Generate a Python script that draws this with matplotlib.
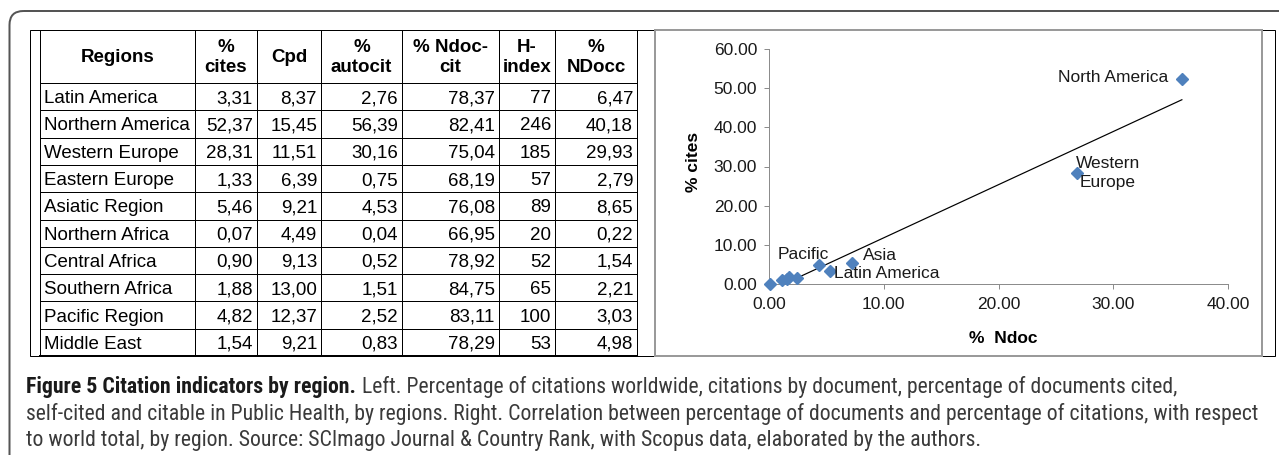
import matplotlib
matplotlib.use("Agg")
import matplotlib.pyplot as plt
from matplotlib import font_manager
from matplotlib.patches import Rectangle, FancyBboxPatch
import numpy as np

# ---- data -------------------------------------------------------------
regions = ["Latin America", "Northern America", "Western Europe", "Eastern Europe",
           "Asiatic Region", "Northern Africa", "Central Africa", "Southern Africa",
           "Pacific Region", "Middle East"]
pct_cites = [3.31, 52.37, 28.31, 1.33, 5.46, 0.07, 0.90, 1.88, 4.82, 1.54]
cpd = [8.37, 15.45, 11.51, 6.39, 9.21, 4.49, 9.13, 13.00, 12.37, 9.21]
pct_autocit = [2.76, 56.39, 30.16, 0.75, 4.53, 0.04, 0.52, 1.51, 2.52, 0.83]
pct_ndoc_cit = [78.37, 82.41, 75.04, 68.19, 76.08, 66.95, 78.92, 84.75, 83.11, 78.29]
h_index = [77, 246, 185, 57, 89, 20, 52, 65, 100, 53]
pct_ndocc = [6.47, 40.18, 29.93, 2.79, 8.65, 0.22, 1.54, 2.21, 3.03, 4.98]
headers = ["Regions", "%\ncites", "Cpd", "%\nautocit", "% Ndoc-\ncit", "H-\nindex", "%\nNDocc"]

# scatter: % Ndoc, % cites from the table
pct_ndoc = [5.32, 35.98, 26.83, 1.60, 7.26, 0.09, 1.16, 1.77, 4.36, 2.41]
point_names = ["Latin America", "North America", "Western\nEurope", "", "Asia",
               "", "", "", "Pacific", ""]
x_ticks = [0, 10, 20, 30, 40]
y_ticks = [0, 10, 20, 30, 40, 50, 60]

caption_bold = "Figure 5 Citation indicators by region."
caption_lines = [
    "Left. Percentage of citations worldwide, citations by document, percentage of documents cited,",
    "self-cited and citable in Public Health, by regions. Right. Correlation between percentage of documents and percentage of citations, with respect",
    "to world total, by region. Source: SCImago Journal & Country Rank, with Scopus data, elaborated by the authors.",
]

# ---- layout (pixels) --------------------------------------------------
W, H = 1279, 455
PT = 0.72  # points per pixel at dpi 100
col_edges = [39.5, 195, 257, 321, 402, 499, 555, 637]
table_top = 30
header_h = 53
row_h = 27.3

installed = {f.name for f in font_manager.fontManager.ttflist}
def pick(names):
    for n in names:
        if n in installed:
            return n
    return "DejaVu Sans"

table_font = pick(["Liberation Sans", "Arial", "DejaVu Sans"])
cap_font = pick(["Liberation Sans Narrow", "Roboto Condensed", "Open Sans Condensed",
                 "Roboto", "Open Sans"])

fig = plt.figure(figsize=(W / 100, H / 100), dpi=100)
fig.patch.set_facecolor("white")

bg = fig.add_axes([0, 0, 1, 1])
bg.set_xlim(0, W)
bg.set_ylim(H, 0)
bg.axis("off")

# outer rounded box and frames
bg.add_patch(FancyBboxPatch((9.5, 11), 1400, 600, boxstyle="round,pad=0,rounding_size=14",
                            fill=False, edgecolor="#555555", lw=2 * PT))
table_bottom = table_top + header_h + row_h * len(regions)
bg.add_patch(Rectangle((29.5, 29.5), 1274.5 - 29.5, table_bottom - 29.5,
                       fill=False, edgecolor="black", lw=1 * PT))
bg.add_patch(Rectangle((655, 29.5), 1262 - 655, table_bottom - 29.5,
                       fill=False, edgecolor="#9a9a9a", lw=2 * PT))

# ---- table ------------------------------------------------------------
row_lines = [table_top, table_top + header_h] + \
    [table_top + header_h + row_h * (i + 1) for i in range(len(regions))]
for y in row_lines[:-1]:
    bg.plot([col_edges[0], col_edges[-1]], [y, y], color="black", lw=1 * PT)
bg.plot([col_edges[0], col_edges[-1]], [row_lines[-1]] * 2, color="black", lw=2 * PT)
for x in col_edges:
    bg.plot([x, x], [table_top, table_bottom], color="black", lw=1 * PT)

fs_tab = 13.5
for j, h in enumerate(headers):
    xc = (col_edges[j] + col_edges[j + 1]) / 2
    bg.text(xc, table_top + header_h / 2 + 1, h, ha="center", va="center",
            fontsize=fs_tab, fontweight="bold", family=table_font, linespacing=1.2)

def fmt(v):
    return f"{v:.2f}".replace(".", ",")

columns = [pct_cites, cpd, pct_autocit, pct_ndoc_cit, h_index, pct_ndocc]
for i, name in enumerate(regions):
    yc = table_top + header_h + row_h * (i + 0.5)
    bg.text(col_edges[0] + 4, yc, name, ha="left", va="center_baseline",
            fontsize=fs_tab, family=table_font)
    for j, col in enumerate(columns):
        v = col[i]
        s = str(v) if isinstance(v, int) else fmt(v)
        bg.text(col_edges[j + 2] - 4, yc, s, ha="right", va="center_baseline",
                fontsize=fs_tab, family=table_font)

# ---- scatter ----------------------------------------------------------
ax = fig.add_axes([769 / W, 1 - 284 / H, 459 / W, 235 / H])
ax.patch.set_alpha(0)
x = np.array(pct_ndoc)
y = np.array(pct_cites)
slope, inter = np.polyfit(x, y, 1)
xl = np.array([x.min(), x.max()])
ax.plot(xl, slope * xl + inter, color="black", lw=1.2 * PT, zorder=2)
ax.plot(x, y, linestyle="none", marker="D", ms=6.6, color="#4f81bd", clip_on=False, zorder=3)

label_style = {
    "Latin America": ((2.5, -1.5), "left"),
    "North America": ((-9.5, 1), "right"),
    "Western\nEurope": ((22.5, 0), "center"),
    "Asia": ((8, 4.8), "left"),
    "Pacific": ((-11.5, 8), "center"),
}
for xi, yi, name in zip(x, y, point_names):
    if not name:
        continue
    off, ha = label_style[name]
    ax.annotate(name, (xi, yi), xytext=off, textcoords="offset points", ha=ha,
                va="center", fontsize=12.5, family=table_font, color="#1a1a1a",
                multialignment="center", linespacing=1.3)

ax.set_xlim(0, 40)
ax.set_ylim(0, 60)
ax.set_xticks(x_ticks)
ax.set_yticks(y_ticks)
ax.set_xticklabels([f"{t:.2f}" for t in x_ticks])
ax.set_yticklabels([f"{t:.2f}" for t in y_ticks])
for s in ["top", "right"]:
    ax.spines[s].set_visible(False)
for s in ["left", "bottom"]:
    ax.spines[s].set_color("#8c8c8c")
    ax.spines[s].set_linewidth(1 * PT)
ax.tick_params(axis="both", direction="out", length=3.6, width=1 * PT, color="#8c8c8c",
               labelsize=12.5, labelcolor="#1a1a1a")
ax.tick_params(axis="x", pad=5.5)
ax.tick_params(axis="y", pad=5)
for lab in ax.get_xticklabels() + ax.get_yticklabels():
    lab.set_family(table_font)
ax.set_xlabel("%  Ndoc", fontsize=12.5, fontweight="bold", family=table_font)
ax.set_ylabel("% cites", fontsize=12.5, fontweight="bold", family=table_font)
ax.xaxis.set_label_coords(0.51, -0.23)
ax.xaxis.label.set_va("center")
ax.yaxis.set_label_coords(-0.165, 0.52)
ax.yaxis.label.set_va("center")

# ---- caption ----------------------------------------------------------
renderer = fig.canvas.get_renderer()
probe = bg.text(0, 0, caption_lines[1], fontsize=14, family=cap_font)
cap_fs = 14 * 1241 / probe.get_window_extent(renderer).width
probe.remove()

baselines = [393, 420, 446]
tb = bg.text(26, baselines[0], caption_bold, fontsize=cap_fs, family=cap_font,
             fontweight="bold", color="#1a1a1a", va="baseline")
wb = tb.get_window_extent(renderer).width
bg.text(26 + wb + cap_fs * 0.3 / PT, baselines[0], caption_lines[0], fontsize=cap_fs,
        family=cap_font, color="#3a3a3a", va="baseline")
for line, yb in zip(caption_lines[1:], baselines[1:]):
    bg.text(26, yb, line, fontsize=cap_fs, family=cap_font, color="#3a3a3a", va="baseline")

fig.savefig("out.png", dpi=100)
